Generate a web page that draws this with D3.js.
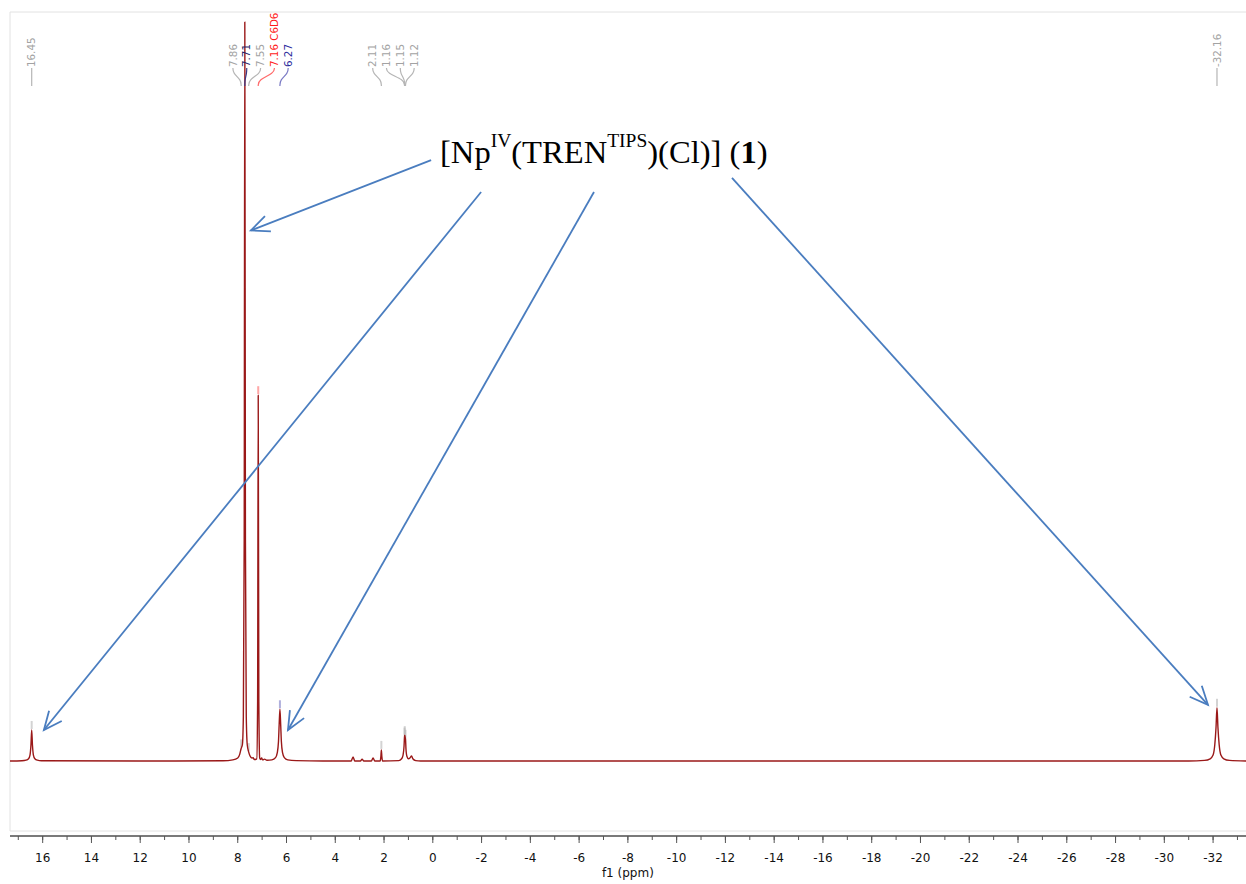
<!DOCTYPE html>
<html>
<head>
<meta charset="utf-8">
<script src="https://cdn.jsdelivr.net/npm/d3@7"></script>
<style>
  html, body { margin: 0; padding: 0; background: #fff; }
  svg { display: block; }
</style>
</head>
<body>
<div id="spectrum"></div>
<script>
// 1H NMR spectrum, [ppm, intensity] (tallest peak = 100)
var spectrum = [
  [17.34, 0], [16.85, 0.04], [16.68, 0.12], [16.58, 0.3], [16.52, 0.8], [16.48, 2.2], [16.45, 4.2],
  [16.42, 2.2], [16.38, 0.8], [16.32, 0.3], [16.22, 0.12], [16.05, 0.04], [12, 0],
  [8.6, 0.03], [8.2, 0.15], [8.0, 0.4], [7.92, 0.9], [7.86, 1.7], [7.81, 2.2], [7.77, 6],
  [7.735, 30], [7.71, 100], [7.685, 30], [7.65, 6], [7.61, 2.2], [7.55, 1.2], [7.5, 0.7],
  [7.42, 0.4], [7.37, 0.45], [7.32, 0.2], [7.22, 0.3], [7.185, 8], [7.16, 49.5], [7.135, 8],
  [7.1, 0.4], [7.06, 0.2], [7.02, 0.4], [6.98, 0.15], [6.9, 0.25], [6.8, 0.1], [6.6, 0.15],
  [6.45, 0.45], [6.38, 1.1], [6.33, 2.6], [6.3, 5], [6.27, 7], [6.24, 5], [6.21, 2.6],
  [6.16, 1.1], [6.09, 0.45], [5.95, 0.15], [5.6, 0.05], [4.5, 0],
  [3.35, 0], [3.27, 0.55], [3.2, 0], [2.97, 0], [2.9, 0.25], [2.83, 0], [2.52, 0], [2.45, 0.4],
  [2.38, 0], [2.16, 0], [2.13, 0.6], [2.11, 1.5], [2.09, 0.6], [2.06, 0],
  [1.4, 0.05], [1.28, 0.3], [1.22, 0.8], [1.18, 2], [1.16, 3.3], [1.15, 3.5], [1.135, 3.2],
  [1.12, 3.0], [1.1, 1.6], [1.06, 0.6], [1.0, 0.3], [0.93, 0.45], [0.87, 0.7], [0.82, 0.3],
  [0.7, 0.05], [0.5, 0],
  [-31, 0], [-31.65, 0.08], [-31.88, 0.3], [-32.0, 0.8], [-32.07, 2.2], [-32.12, 4.5],
  [-32.16, 7.2], [-32.2, 4.5], [-32.25, 2.2], [-32.32, 0.8], [-32.44, 0.3], [-32.67, 0.08],
  [-33.35, 0]
];

// peak picking labels
var peakPpm   = [16.45, 7.86, 7.71, 7.55, 7.16, 6.27, 2.11, 1.16, 1.15, 1.12, -32.16];
var peakText  = ["16.45", "7.86", "7.71", "7.55", "7.16 C6D6", "6.27", "2.11", "1.16", "1.15", "1.12", "-32.16"];
var peakColor = ["#a3a3a3", "#a3a3a3", "#1f1f6b", "#a3a3a3", "#ff1a1a", "#2b2b9c", "#a3a3a3", "#a3a3a3", "#a3a3a3", "#a3a3a3", "#a3a3a3"];
var linkColor = ["#b5b5b5", "#b5b5b5", "#3a3a88", "#b5b5b5", "#ff6a6a", "#7a7ac4", "#b5b5b5", "#b5b5b5", "#b5b5b5", "#b5b5b5", "#b5b5b5"];

// axis ticks
var majorTicks = d3.range(16, -33, -2);
var minorTicks = d3.range(17, -34, -1);

// annotation arrows, [ppm, intensity] from -> to
var arrowFrom = [[0.07, 81.3], [-1.98, 77.0], [-6.61, 77.0], [-12.27, 78.9]];
var arrowTo   = [[7.46, 71.8], [15.95, 4.2], [5.94, 4.2], [-31.79, 7.6]];

var W = 1246, H = 884;
var plot = {left: 10, right: 1246, top: 12, bottom: 831};
var baseY = 761, topY = 22, axisY = 836;

var svg = d3.select("#spectrum").append("svg")
  .attr("width", W).attr("height", H);

var x = d3.scaleLinear().domain([17.34, -33.35]).range([plot.left, plot.right]);
var y = d3.scaleLinear().domain([0, 100]).range([baseY, topY]);

// frame
svg.append("path")
  .attr("d", "M" + plot.left + "," + plot.bottom + "V" + plot.top + "H" + plot.right
    + "M" + plot.left + "," + plot.bottom + "H" + plot.right)
  .attr("fill", "none").attr("stroke", "#e2e2e2").attr("stroke-width", 1);

// axis
var axis = svg.append("g").attr("transform", "translate(0," + axisY + ")");
axis.append("line").attr("x1", plot.left).attr("x2", plot.right)
  .attr("stroke", "#7a7a7a").attr("stroke-width", 2);
axis.selectAll(".minor").data(minorTicks).enter().append("line")
  .attr("x1", d => x(d)).attr("x2", d => x(d)).attr("y1", 0).attr("y2", 4)
  .attr("stroke", "#555").attr("stroke-width", 1);
axis.selectAll(".major").data(majorTicks).enter().append("line")
  .attr("x1", d => x(d)).attr("x2", d => x(d)).attr("y1", 0).attr("y2", 7)
  .attr("stroke", "#555").attr("stroke-width", 1);
axis.selectAll(".tl").data(majorTicks).enter().append("text")
  .attr("x", d => x(d)).attr("y", 26)
  .attr("text-anchor", "middle")
  .style("font-family", "DejaVu Sans, Verdana, sans-serif").style("font-size", "12px")
  .attr("fill", "#111")
  .text(d => d);
svg.append("text")
  .attr("x", x(-8)).attr("y", 877)
  .attr("text-anchor", "middle")
  .style("font-family", "DejaVu Sans, Verdana, sans-serif").style("font-size", "12px")
  .attr("fill", "#111")
  .text("f1 (ppm)");

// intensity at a given ppm (for the marker tips)
function intensityAt(p) {
  for (var i = 0; i < spectrum.length - 1; i++) {
    var a = spectrum[i], b = spectrum[i + 1];
    if (p <= a[0] && p >= b[0]) {
      var t = (a[0] - p) / (a[0] - b[0]);
      return a[1] + t * (b[1] - a[1]);
    }
  }
  return 0;
}

// peak markers just above each picked peak (skip if they'd hit the frame)
peakPpm.forEach(function (p, i) {
  var tip = y(intensityAt(p));
  if (tip - 9 < plot.top + 10) return;
  svg.append("line")
    .attr("x1", x(p)).attr("x2", x(p))
    .attr("y1", tip - 1).attr("y2", tip - 9)
    .attr("stroke", linkColor[i]).attr("stroke-opacity", 0.6).attr("stroke-width", 2);
});

// spectrum trace
svg.append("path")
  .datum(spectrum)
  .attr("d", d3.line().x(d => x(d[0])).y(d => y(d[1])).curve(d3.curveMonotoneX))
  .attr("fill", "none")
  .attr("stroke", "#9a1818")
  .attr("stroke-width", 1.4)
  .attr("stroke-linejoin", "round");

// label layout: spread overlapping labels evenly
var gap = 13.8;
var clusters = peakPpm.map((p, i) => ({idx: [i], lo: x(p), hi: x(p)}))
  .sort((a, b) => a.lo - b.lo);
function place(c) {
  var mid = (c.lo + c.hi) / 2, n = c.idx.length;
  c.start = mid - (n - 1) / 2 * gap;
  c.end = mid + (n - 1) / 2 * gap;
}
clusters.forEach(place);
var merged = true;
while (merged) {
  merged = false;
  for (var k = 0; k < clusters.length - 1; k++) {
    var a = clusters[k], b = clusters[k + 1];
    if (a.end + gap > b.start) {
      a.idx = a.idx.concat(b.idx);
      a.lo = Math.min(a.lo, b.lo); a.hi = Math.max(a.hi, b.hi);
      place(a);
      clusters.splice(k + 1, 1);
      merged = true;
      break;
    }
  }
}
var labelX = [];
clusters.forEach(function (c) {
  c.idx.sort((i, j) => x(peakPpm[i]) - x(peakPpm[j]));
  c.idx.forEach((i, n) => { labelX[i] = c.start + n * gap; });
});

var link = d3.line().curve(d3.curveBasis);
peakPpm.forEach(function (p, i) {
  var lx = labelX[i], px = x(p);
  svg.append("path")
    .attr("d", link([[lx, 68], [lx, 73], [px, 80], [px, 86]]))
    .attr("fill", "none").attr("stroke", linkColor[i]).attr("stroke-width", 1.2);
  svg.append("text")
    .attr("transform", "translate(" + lx + ",67) rotate(-90)")
    .attr("dy", "0.36em")
    .style("font-family", "DejaVu Sans, Verdana, sans-serif").style("font-size", "10.3px")
    .attr("fill", peakColor[i])
    .text(peakText[i]);
});

// arrows
var arrowColor = "#4a7dbf";
arrowFrom.forEach(function (f, i) {
  var x1 = x(f[0]), y1 = y(f[1]), x2 = x(arrowTo[i][0]), y2 = y(arrowTo[i][1]);
  var ang = Math.atan2(y1 - y2, x1 - x2), len = 20, spread = 0.42;
  svg.append("line").attr("x1", x1).attr("y1", y1).attr("x2", x2).attr("y2", y2)
    .attr("stroke", arrowColor).attr("stroke-width", 1.8);
  svg.append("path")
    .attr("d", "M" + (x2 + len * Math.cos(ang + spread)) + "," + (y2 + len * Math.sin(ang + spread))
      + "L" + x2 + "," + y2
      + "L" + (x2 + len * Math.cos(ang - spread)) + "," + (y2 + len * Math.sin(ang - spread)))
    .attr("fill", "none").attr("stroke", arrowColor).attr("stroke-width", 1.8)
    .attr("stroke-linejoin", "miter");
});

// compound label
var title = svg.append("text")
  .attr("x", 440).attr("y", 163)
  .style("font-family", "Liberation Serif, Times New Roman, serif")
  .style("font-size", "32.6px")
  .attr("fill", "#000");
title.append("tspan").text("[Np");
title.append("tspan").attr("dy", -16).style("font-size", "19.5px").text("IV");
title.append("tspan").attr("dy", 16).text("(TREN");
title.append("tspan").attr("dy", -16).style("font-size", "19.5px").text("TIPS");
title.append("tspan").attr("dy", 16).text(")(Cl)] (");
title.append("tspan").style("font-weight", "bold").text("1");
title.append("tspan").text(")");
</script>
</body>
</html>
